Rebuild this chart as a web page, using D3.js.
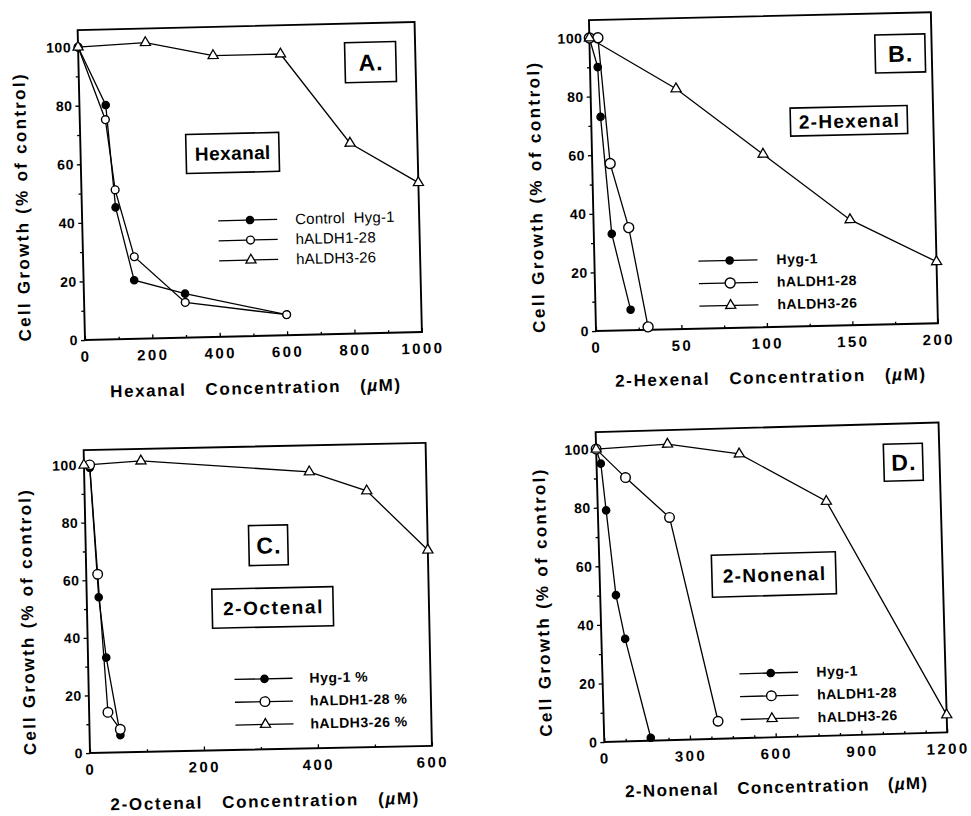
<!DOCTYPE html>
<html>
<head>
<meta charset="utf-8">
<script src="https://cdn.jsdelivr.net/npm/d3@7"></script>
<style>
  body { margin: 0; background: #fff; }
  svg { display: block; font-family: "Liberation Sans", Arial, Helvetica, sans-serif; }
</style>
</head>
<body>
<div id="chart"></div>
<script>
// cell growth (% of control) against aldehyde concentration (uM), one panel per aldehyde
const compounds = ['Hexanal', '2-Hexenal', '2-Octenal', '2-Nonenal'];
const panelLetters = ['A.', 'B.', 'C.', 'D.'];
const legendLabels = [
  ['Control  Hyg-1', 'hALDH1-28', 'hALDH3-26'],
  ['Hyg-1', 'hALDH1-28', 'hALDH3-26'],
  ['Hyg-1 %', 'hALDH1-28 %', 'hALDH3-26 %'],
  ['Hyg-1', 'hALDH1-28', 'hALDH3-26']
];

// [concentration, growth %]
const hexanalHyg1 = [[0, 100], [78, 80], [100, 45], [150, 20], [300, 15], [600, 7]];
const hexanalALDH1 = [[0, 100], [76, 75], [100, 51], [152, 28], [300, 12], [600, 7]];
const hexanalALDH3 = [[0, 100], [200, 101], [400, 96], [600, 96], [800, 65], [1000, 51]];

const hexenalHyg1 = [[0, 100], [4.5, 90], [5.5, 73], [10.5, 33], [20.5, 7]];
const hexenalALDH1 = [[0, 100], [5, 100], [10.5, 57], [20.5, 35], [30.5, 1]];
const hexenalALDH3 = [[0, 100], [50, 82], [100, 59], [150, 36], [200, 21]];

const octenalHyg1 = [[10, 99], [21, 54], [32, 33], [54, 6]];
const octenalALDH1 = [[10, 100], [20, 62], [33, 14], [54, 8]];
const octenalALDH3 = [[0, 100], [100, 101], [395, 96], [495, 89], [600, 68]];

const nonenalHyg1 = [[0, 100], [15, 95], [29, 79], [55, 50], [83, 35], [163, 1]];
const nonenalALDH1 = [[0, 100], [100, 90], [250, 76], [400, 6]];
const nonenalALDH3 = [[0, 100], [250, 101], [500, 97], [800, 80], [1200, 6]];

const xTickValues = [
  [0, 200, 400, 600, 800, 1000],
  [0, 50, 100, 150, 200],
  [0, 200, 400, 600],
  [0, 300, 600, 900, 1200]
];
const xMinorSteps = [100, 25, 100, 75];
const yTickValues = [0, 20, 40, 60, 80, 100];

const seriesByPanel = [
  [hexanalHyg1, hexanalALDH1, hexanalALDH3],
  [hexenalHyg1, hexenalALDH1, hexenalALDH3],
  [octenalHyg1, octenalALDH1, octenalALDH3],
  [nonenalHyg1, nonenalALDH1, nonenalALDH3]
];

// page geometry of each (slightly tilted) scanned panel; u right / v up from the axis origin
const layout = [
  { ox: 85, oy: 340, angle: 1.36, w: 337, h: 310, yTop: 105.8, rHollow: 3.9,
    letter: [292, 271, 51, 40], name: [152, 183.5, 93, 39], nameSpacing: 0.4,
    legend: { u0: 136, u1: 195, mark: 167.8, text: 213, v0: 116, dv: 20, bold: false, size: 15 },
    yTitle: [-60, 133.5, 267], xTitle: [169, -52, 290] },
  { ox: 596, oy: 331, angle: 1.3, w: 342, h: 311, yTop: 106.1, rHollow: 5,
    letter: [310.4, 270.6, 50, 38], name: [257.6, 204.4, 117, 28], nameSpacing: 1.3,
    legend: { u0: 104, u1: 163, mark: 135.2, text: 182, v0: 67.5, dv: 22.5, bold: true, size: 14 },
    yTitle: [-57, 134.5, 270], xTitle: [173, -50.2, 310] },
  { ox: 90, oy: 753, angle: 1.2, w: 342, h: 303, yTop: 105.2, rHollow: 4.8,
    letter: [182.7, 204, 39, 40], name: [185.7, 141.7, 121, 39], nameSpacing: 1.6,
    legend: { u0: 146, u1: 204, mark: 176, text: 221, v0: 70.5, dv: 22.8, bold: true, size: 14 },
    yTitle: [-60, 131.6, 265], xTitle: [173.4, -51.8, 308] },
  { ox: 604.3, oy: 742, angle: 1.6, w: 343, h: 310, yTop: 105.8, rHollow: 4.8,
    letter: [306.7, 271.3, 39, 37], name: [174.2, 162.7, 124, 42], nameSpacing: 1.3,
    legend: { u0: 137, u1: 195.5, mark: 168.3, text: 214, v0: 64.3, dv: 22.8, bold: true, size: 14 },
    yTitle: [-58, 140.5, 267], xTitle: [170.5, -49.8, 302] }
];

const svg = d3.select('#chart')
  .append('svg')
    .attr('width', 971)
    .attr('height', 816);

svg.append('rect').attr('width', 971).attr('height', 816).attr('fill', '#fff');

const triangle = d3.symbol().type(d3.symbolTriangle).size(44);

function drawMarker(sel, kind, cx, cy, r) {
  if (kind === 2) {
    sel.append('path')
      .attr('d', triangle)
      .attr('transform', `translate(${cx},${cy})`)
      .attr('fill', '#fff')
      .attr('stroke', '#000')
      .attr('stroke-width', 1.3);
  } else {
    sel.append('circle')
      .attr('cx', cx)
      .attr('cy', cy)
      .attr('r', kind === 0 ? 3.6 : r)
      .attr('fill', kind === 0 ? '#000' : '#fff')
      .attr('stroke', '#000')
      .attr('stroke-width', 1.4);
  }
}

layout.forEach((L, p) => {
  const xTicks = xTickValues[p];
  const xMax = xTicks[xTicks.length - 1];
  const minor = d3.range(0, xMax, xMinorSteps[p]).filter(v => !xTicks.includes(v));

  const g = svg.append('g')
    .attr('transform', `translate(${L.ox},${L.oy}) rotate(${-L.angle})`);

  const x = d3.scaleLinear().domain([0, xMax]).range([0, L.w]);
  const y = d3.scaleLinear().domain([0, L.yTop]).range([0, -L.h]);

  // x axis: ticks point into the plot, labels below
  g.append('g')
    .call(d3.axisTop(x).tickValues(xTicks).tickSize(4).tickSizeOuter(0).tickFormat(''))
    .call(a => a.select('.domain').remove());
  g.append('g')
    .call(d3.axisTop(x).tickValues(minor).tickSize(2.5).tickFormat(''))
    .call(a => a.select('.domain').remove());
  g.append('g')
    .call(d3.axisBottom(x).tickValues(xTicks).tickSize(0).tickPadding(11).tickFormat(d3.format('d')))
    .call(a => a.select('.domain').remove())
    .call(a => a.selectAll('text')
      .attr('font-family', null)
      .attr('font-size', 15)
      .attr('font-weight', 'bold')
      .attr('letter-spacing', 2.4)
      .attr('fill', '#000'));

  // y axis: ticks outside
  g.append('g')
    .call(d3.axisLeft(y).tickValues(yTickValues).tickSize(4).tickPadding(3).tickSizeOuter(0))
    .call(a => a.select('.domain').remove())
    .call(a => a.selectAll('text')
      .attr('font-family', null)
      .attr('font-size', 14)
      .attr('font-weight', 'bold')
      .attr('letter-spacing', 0.5)
      .attr('fill', '#000'));
  g.append('g')
    .call(d3.axisLeft(y).tickValues(d3.range(10, 100, 20)).tickSize(3).tickFormat(''))
    .call(a => a.select('.domain').remove());
  g.selectAll('.tick line').attr('stroke', '#000').attr('stroke-width', 1.3);

  g.append('rect')
    .attr('x', 0)
    .attr('y', -L.h)
    .attr('width', L.w)
    .attr('height', L.h)
    .attr('fill', 'none')
    .attr('stroke', '#000')
    .attr('stroke-width', 1.9);

  const line = d3.line().x(d => x(d[0])).y(d => y(d[1]));
  const series = seriesByPanel[p];

  series.forEach(data => {
    g.append('path')
      .attr('d', line(data))
      .attr('fill', 'none')
      .attr('stroke', '#000')
      .attr('stroke-width', 1.3);
  });
  series.forEach((data, k) => {
    data.forEach(d => drawMarker(g, k, x(d[0]), y(d[1]), L.rHollow));
  });

  // legend
  const lg = L.legend;
  legendLabels[p].forEach((label, k) => {
    const v = -(lg.v0 - k * lg.dv);
    g.append('line')
      .attr('x1', lg.u0).attr('x2', lg.u1)
      .attr('y1', v).attr('y2', v)
      .attr('stroke', '#000')
      .attr('stroke-width', 1.3);
    drawMarker(g, k, lg.mark, v, L.rHollow);
    g.append('text')
      .attr('x', lg.text)
      .attr('y', v)
      .attr('dy', '0.35em')
      .attr('font-size', lg.size)
      .attr('font-weight', lg.bold ? 'bold' : 'normal')
      .attr('letter-spacing', lg.bold ? 0.5 : 0.2)
      .attr('xml:space', 'preserve')
      .style('white-space', 'pre')
      .text(label);
  });

  // boxed panel letter and compound name
  [[L.letter, panelLetters[p], 23, 1], [L.name, compounds[p], 19, L.nameSpacing]].forEach(([b, txt, size, ls]) => {
    g.append('rect')
      .attr('x', b[0] - b[2] / 2)
      .attr('y', -b[1] - b[3] / 2)
      .attr('width', b[2])
      .attr('height', b[3])
      .attr('fill', '#fff')
      .attr('stroke', '#000')
      .attr('stroke-width', 1.6);
    g.append('text')
      .attr('x', b[0] + ls / 2)
      .attr('y', -b[1])
      .attr('dy', '0.36em')
      .attr('text-anchor', 'middle')
      .attr('font-size', size)
      .attr('font-weight', 'bold')
      .attr('letter-spacing', ls)
      .text(txt);
  });

  // axis titles
  g.append('text')
    .attr('transform', `translate(${L.yTitle[0]},${-L.yTitle[1]}) rotate(-90)`)
    .attr('dy', '0.35em')
    .attr('text-anchor', 'middle')
    .attr('font-size', 17)
    .attr('font-weight', 'bold')
    .attr('textLength', L.yTitle[2])
    .attr('lengthAdjust', 'spacing')
    .text('Cell Growth (% of control)');

  const xt = g.append('text')
    .attr('x', L.xTitle[0])
    .attr('y', -L.xTitle[1])
    .attr('dy', '0.35em')
    .attr('text-anchor', 'middle')
    .attr('font-size', 17)
    .attr('font-weight', 'bold')
    .attr('textLength', L.xTitle[2])
    .attr('lengthAdjust', 'spacing')
    .attr('xml:space', 'preserve')
    .style('white-space', 'pre');
  xt.append('tspan').text(`${compounds[p]}   Concentration   (`);
  xt.append('tspan').attr('font-style', 'italic').text('\u00b5');
  xt.append('tspan').text('M)');
});
</script>
</body>
</html>
